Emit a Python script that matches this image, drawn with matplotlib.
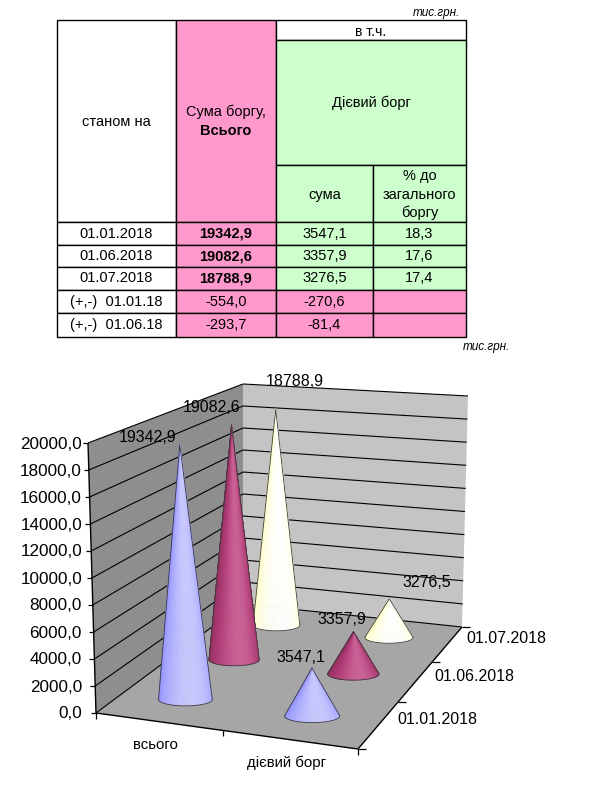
import numpy as np
import matplotlib
matplotlib.use("Agg")
import matplotlib.pyplot as plt
from matplotlib.patches import Rectangle, Polygon
from matplotlib.collections import PolyCollection
from matplotlib.colors import to_rgb

plt.rcParams['font.family'] = ['Liberation Sans', 'DejaVu Sans']

# ---------------- data ----------------
dates = ['01.01.2018', '01.06.2018', '01.07.2018']
total_debt = [19342.9, 19082.6, 18788.9]
effective_debt = [3547.1, 3357.9, 3276.5]
effective_pct = [18.3, 17.6, 17.4]
change_labels = ['(+,-)  01.01.18', '(+,-)  01.06.18']
total_change = [-554.0, -293.7]
effective_change = [-270.6, -81.4]
categories = ['всього', 'дієвий борг']
y_ticks = [0, 2000, 4000, 6000, 8000, 10000, 12000, 14000, 16000, 18000, 20000]
y_max = 20000
unit_label = 'тис.грн.'

series_colors = ['#9999FF', '#993366', '#FFFFCC']
PINK = '#FF99CC'
GREEN = '#CCFFCC'


def fmt(v):
    return f"{v:.1f}".replace('.', ',')


fig = plt.figure(figsize=(5.93, 7.97), dpi=100)
ax = fig.add_axes([0, 0, 1, 1])
ax.set_xlim(0, 593)
ax.set_ylim(797, 0)
ax.axis('off')

# ---------------- table ----------------
cx = [57, 176, 276, 373, 466]
ry = [20, 40, 165, 222, 245, 267, 290, 313, 337]
FS = 10.5


def cell(x0, x1, y0, y1, color):
    ax.add_patch(Rectangle((x0, y0), x1 - x0, y1 - y0, facecolor=color,
                           edgecolor='black', linewidth=1.0, zorder=1))


def ctext(x, y, s, **kw):
    ax.text(x, y, s, ha='center', va='center', fontsize=kw.pop('fs', FS), zorder=3, **kw)


# header
cell(cx[0], cx[1], ry[0], ry[3], 'white')
cell(cx[1], cx[2], ry[0], ry[3], PINK)
cell(cx[2], cx[4], ry[0], ry[1], 'white')
cell(cx[2], cx[4], ry[1], ry[2], GREEN)
cell(cx[2], cx[3], ry[2], ry[3], GREEN)
cell(cx[3], cx[4], ry[2], ry[3], GREEN)
mid = [(cx[i] + cx[i + 1]) / 2 for i in range(4)]
ctext(mid[0], 122, 'станом на')
ctext(mid[1], 112, 'Сума боргу,')
ctext(mid[1], 131, 'Всього', fontweight='bold')
ctext((cx[2] + cx[4]) / 2, 32, 'в т.ч.', fs=10)
ctext((cx[2] + cx[4]) / 2, 103, 'Дієвий борг')
ctext(mid[2], 195, 'сума')
ctext(mid[3], 176, '% до')
ctext(mid[3], 195, 'загального')
ctext(mid[3], 213, 'боргу')

for i, d in enumerate(dates):
    y0, y1 = ry[3 + i], ry[4 + i]
    cell(cx[0], cx[1], y0, y1, 'white')
    cell(cx[1], cx[2], y0, y1, PINK)
    cell(cx[2], cx[3], y0, y1, GREEN)
    cell(cx[3], cx[4], y0, y1, GREEN)
    yc = (y0 + y1) / 2
    ctext(mid[0], yc, d)
    ctext(mid[1], yc, fmt(total_debt[i]), fontweight='bold')
    ctext(mid[2], yc, fmt(effective_debt[i]))
    ctext(mid[3], yc, fmt(effective_pct[i]))

for i, lab in enumerate(change_labels):
    y0, y1 = ry[6 + i], ry[7 + i]
    cell(cx[0], cx[1], y0, y1, 'white')
    cell(cx[1], cx[2], y0, y1, PINK)
    cell(cx[2], cx[3], y0, y1, PINK)
    cell(cx[3], cx[4], y0, y1, PINK)
    yc = (y0 + y1) / 2
    ctext(mid[0], yc, lab)
    ctext(mid[1], yc, fmt(total_change[i]))
    ctext(mid[2], yc, fmt(effective_change[i]))

ax.text(460, 13, unit_label, ha='right', va='center', fontsize=8.5, style='italic', zorder=3)
ax.text(510, 347, unit_label, ha='right', va='center', fontsize=8.5, style='italic', zorder=3)

# ---------------- 3D cone chart (perspective projection) ----------------


def homography(dst):
    src = [(0, 0), (1, 0), (1, 1), (0, 1)]
    A, b = [], []
    for (x, y), (X, Y) in zip(src, dst):
        A.append([x, y, 1, 0, 0, 0, -X * x, -X * y]); b.append(X)
        A.append([0, 0, 0, x, y, 1, -Y * x, -Y * y]); b.append(Y)
    h = np.linalg.solve(np.array(A, float), np.array(b, float))
    return np.append(h, 1).reshape(3, 3)


H_floor = homography([(96, 713), (358, 749), (462, 627), (243, 604)])
H_top = homography([(88, 443), (360, 466), (468, 396), (243, 384)])


def ph(H, u, v):
    p = H @ np.array([u, v, 1.0])
    return p[:2] / p[2]


def P3(u, v, w):
    f = ph(H_floor, u, v)
    t = ph(H_top, u, v)
    return f + w * (t - f)


def poly(pts, fc, z=2, ec='none', lw=0):
    ax.add_patch(Polygon(np.array(pts), closed=True, facecolor=fc, edgecolor=ec,
                         linewidth=lw, zorder=z))


def line(p, q, c='black', lw=0.8, z=3):
    ax.plot([p[0], q[0]], [p[1], q[1]], color=c, lw=lw, zorder=z, solid_capstyle='butt')


# walls and floor
poly([P3(0, 0, 0), P3(0, 1, 0), P3(0, 1, 1), P3(0, 0, 1)], '#8e8e8e')
poly([P3(0, 1, 0), P3(1, 1, 0), P3(1, 1, 1), P3(0, 1, 1)], '#c4c4c4')
poly([P3(0, 0, 0), P3(1, 0, 0), P3(1, 1, 0), P3(0, 1, 0)], '#a6a6a6')

label_x = P3(0, 0, 1)[0] - 6
for yt in y_ticks:
    w = yt / y_max
    line(P3(0, 0, w), P3(0, 1, w), lw=0.8)
    line(P3(0, 1, w), P3(1, 1, w), lw=0.8)
    p = P3(0, 0, w)
    line(p, p + np.array([-5, 0]), lw=0.9)
    ax.text(label_x, p[1] + 1, fmt(yt), ha='right', va='center', fontsize=12.3, zorder=3)

# axis lines
line(P3(0, 0, 0), P3(0, 0, 1), lw=1.0)
line(P3(0, 0, 0), P3(1, 0, 0), lw=1.0)
line(P3(1, 0, 0), P3(1, 1, 0), lw=1.0)
for k in range(len(categories) + 1):
    p = P3(k / len(categories), 0, 0)
    line(p, p + np.array([0, 6]), lw=0.9)
ns = len(dates)
for k in range(ns + 1):
    p = P3(1, k / ns, 0)
    line(p, p + np.array([8, 0]), lw=0.9)

for i, c in enumerate(categories):
    p = P3((i + 0.5) / len(categories), 0, 0)
    ax.text(p[0] - 3, p[1] + 23, c, ha='center', va='center', fontsize=10.8, zorder=3)
for j, d in enumerate(dates):
    p = P3(1, (j + 0.5) / ns, 0)
    ax.text(p[0] + 19, p[1] - 5, d, ha='left', va='center', fontsize=11.5, zorder=3)


def shade(base, s):
    base = np.array(base)
    c = base * (1.0 + 0.24 * s)
    if s > 0:
        c = c + (1 - c) * 0.18 * s ** 4
    return np.clip(c, 0, 1)


def cone(apex, center, a, b, color, z, n=80):
    base = to_rgb(color)
    ts = np.linspace(-0.06, np.pi + 0.06, n + 1)
    pts = np.column_stack([center[0] + a * np.cos(ts), center[1] + b * np.sin(ts)])
    tris, cols = [], []
    for i in range(n):
        tm = 0.5 * (ts[i] + ts[i + 1])
        s = np.cos(tm - 0.42 * np.pi)
        tris.append([apex, pts[i], pts[i + 1]])
        cols.append(shade(base, s))
    pc = PolyCollection(tris, facecolors=cols, edgecolors=cols, linewidths=0.4, zorder=z)
    ax.add_collection(pc)
    ax.plot([pts[0][0], apex[0], pts[-1][0]], [pts[0][1], apex[1], pts[-1][1]],
            color='#3a3a3a', lw=0.6, zorder=z + 0.01)
    ax.plot(pts[:, 0], pts[:, 1], color='#3a3a3a', lw=0.6, zorder=z + 0.01)


series_values = [[total_debt[j], effective_debt[j]] for j in range(ns)]
label_offsets = [[(-32, -7), (-11, -11)], [(-20, -18), (-12, -12)], [(19, -28), (37, -16)]]

apexes = {}
for j in reversed(range(ns)):
    v = (j + 0.5) / ns
    for i in range(len(categories)):
        u = (i + 0.5) / len(categories)
        val = series_values[j][i]
        c = P3(u, v, 0)
        hloc = np.linalg.norm(P3(u, v, 1) - c)
        apex = P3(u, v, val / y_max)
        a = 0.102 * hloc
        cone(apex, c, a, 0.24 * a, series_colors[j], z=4 + (ns - j))
        apexes[(j, i)] = apex

for (j, i), apex in apexes.items():
    dx, dy = label_offsets[j][i]
    ax.text(apex[0] + dx, apex[1] + dy, fmt(series_values[j][i]), ha='center', va='center',
            fontsize=11.5, zorder=10)

fig.savefig('out.png', dpi=100)
